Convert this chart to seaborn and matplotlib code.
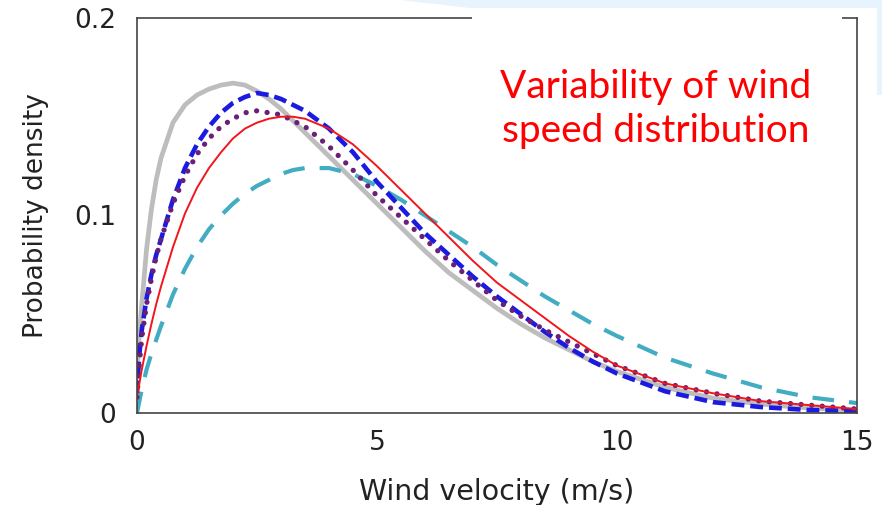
import numpy as np
import pandas as pd
import seaborn as sns
import matplotlib.pyplot as plt
from matplotlib.patches import Rectangle, Polygon

# wind speed grid (m/s) and curves
speed = [0, 0.05, 0.1, 0.2, 0.3, 0.4, 0.5, 0.75, 1.0, 1.25, 1.5, 1.75, 2.0, 2.25,
         2.5, 2.75, 3.0, 3.25, 3.5, 4.0, 4.5, 5.0, 5.5, 6.0, 6.5, 7.0, 7.5, 8.0,
         8.5, 9.0, 9.5, 10, 11, 12, 13, 14, 15]
gray = [0.020, 0.040, 0.055, 0.083, 0.103, 0.118, 0.129, 0.147, 0.156, 0.161, 0.164,
        0.166, 0.167, 0.166, 0.163, 0.159, 0.154, 0.148, 0.142, 0.130, 0.118, 0.106,
        0.094, 0.082, 0.071, 0.062, 0.053, 0.045, 0.038, 0.032, 0.026, 0.021, 0.013,
        0.0075, 0.0045, 0.0025, 0.0012]
blue = [0.010, 0.030, 0.042, 0.058, 0.070, 0.080, 0.088, 0.108, 0.124, 0.136, 0.145,
        0.152, 0.157, 0.160, 0.162, 0.161, 0.159, 0.156, 0.153, 0.144, 0.132, 0.117,
        0.104, 0.091, 0.080, 0.069, 0.059, 0.050, 0.041, 0.033, 0.026, 0.020, 0.011,
        0.0055, 0.003, 0.0015, 0.001]
purple = [0.008, 0.025, 0.038, 0.055, 0.068, 0.079, 0.088, 0.106, 0.120, 0.131, 0.139,
          0.145, 0.149, 0.152, 0.153, 0.152, 0.151, 0.148, 0.145, 0.135, 0.123, 0.110,
          0.099, 0.088, 0.077, 0.067, 0.057, 0.049, 0.042, 0.036, 0.030, 0.024, 0.015,
          0.010, 0.006, 0.004, 0.002]
red = [0.008, 0.015, 0.022, 0.034, 0.045, 0.055, 0.064, 0.084, 0.101, 0.114, 0.124,
       0.132, 0.139, 0.144, 0.147, 0.149, 0.150, 0.150, 0.149, 0.144, 0.136, 0.125,
       0.113, 0.101, 0.089, 0.077, 0.066, 0.057, 0.048, 0.039, 0.031, 0.024, 0.015,
       0.010, 0.006, 0.004, 0.002]
cyan = [0.0, 0.006, 0.012, 0.022, 0.030, 0.037, 0.044, 0.060, 0.073, 0.084, 0.093,
        0.100, 0.106, 0.111, 0.115, 0.118, 0.121, 0.123, 0.124, 0.124, 0.121, 0.115,
        0.108, 0.100, 0.092, 0.084, 0.075, 0.067, 0.059, 0.052, 0.045, 0.039, 0.028,
        0.020, 0.013, 0.008, 0.005]

x_ticks = [0, 5, 10, 15]
y_ticks = [0, 0.1, 0.2]
y_labels = ['0', '0.1', '0.2']

df = pd.DataFrame({'speed': speed, 'gray': gray, 'blue': blue,
                   'purple': purple, 'red': red, 'cyan': cyan})

sns.set_style('white')
plt.rcParams['font.family'] = ['DejaVu Sans']

fig = plt.figure(figsize=(8.82, 5.05), dpi=100)
ax = fig.add_axes([0.1553, 0.1822, 0.8163, 0.7822])

sns.lineplot(data=df, x='speed', y='gray', ax=ax, color='#bdbdbd', lw=3.4,
             solid_capstyle='round')
sns.lineplot(data=df, x='speed', y='cyan', ax=ax, color='#42adc2', lw=3.0,
             ls=(0, (5.2, 3.6)))
sns.lineplot(data=df, x='speed', y='blue', ax=ax, color='#1a1ae0', lw=3.3,
             ls=(0, (2.8, 1.3)))
sns.lineplot(data=df, x='speed', y='purple', ax=ax, color='#6a1f78', lw=3.8,
             ls=(0, (0.01, 2.0)), dash_capstyle='round')
sns.lineplot(data=df, x='speed', y='red', ax=ax, color='#f0161c', lw=1.4)

ax.set_xlim(0, 15)
ax.set_ylim(0, 0.2)
ax.set_xticks(x_ticks)
ax.set_xticklabels([str(t) for t in x_ticks])
ax.set_yticks(y_ticks)
ax.set_yticklabels(y_labels)
ax.tick_params(direction='in', length=5, width=1, colors='#333333',
               labelsize=19, labelcolor='#222222')
ax.tick_params(axis='x', pad=12)
ax.tick_params(axis='y', pad=15)
for s in ax.spines.values():
    s.set_color('#444444')
    s.set_linewidth(1.2)
ax.set_xlabel('Wind velocity (m/s)', fontsize=20.5, color='#222222', labelpad=16)
ax.set_ylabel('Probability density', fontsize=19, color='#222222', labelpad=18)

# slide decoration and text box
W, H = 882, 505
fig.add_artist(Polygon([(400 / W, 1), (1, 1), (1, 1 - 95 / H), (877 / W, 1 - 95 / H),
                        (877 / W, 1 - 8 / H), (470 / W, 1 - 8 / H)],
                       closed=True, transform=fig.transFigure, facecolor='#e8f4fd',
                       edgecolor='none', zorder=-1))
fig.add_artist(Rectangle((472 / W, 1 - 178 / H), 370 / W, 170 / H,
                         transform=fig.transFigure, facecolor='white',
                         edgecolor='none', zorder=1))
fig.text(656 / W, 1 - 109 / H, 'Variability of wind\nspeed distribution',
         ha='center', va='center', fontsize=28, color='#ff0000', family='Lato',
         linespacing=1.3, zorder=2)

fig.savefig('out.png', dpi=100)
